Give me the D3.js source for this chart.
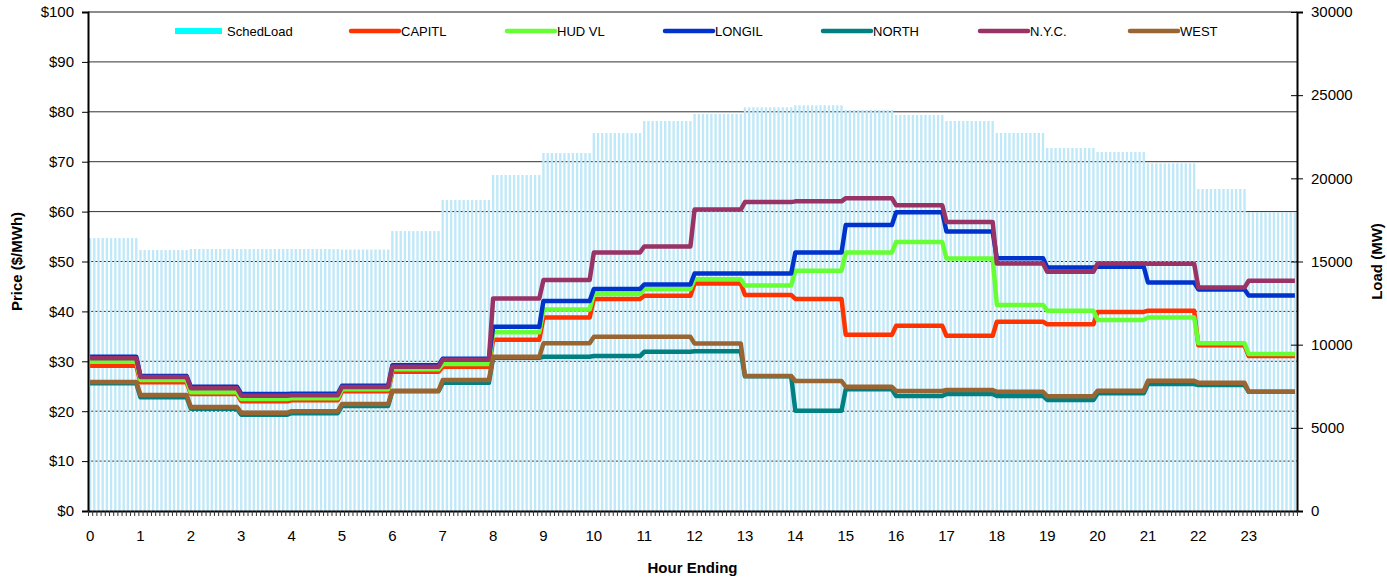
<!DOCTYPE html>
<html>
<head>
<meta charset="utf-8">
<script src="https://cdn.jsdelivr.net/npm/d3@7"></script>
<style>
  body { margin: 0; background: #fff; }
  text { font-family: "Liberation Sans", Arial, sans-serif; }
</style>
</head>
<body>
<div id="chart"></div>
<script>
// hourly data, each hour is shown as 12 five-minute intervals
const hourLabels = ["0","1","2","3","4","5","6","7","8","9","10","11",
                    "12","13","14","15","16","17","18","19","20","21","22","23"];

const schedLoad = [16410, 15690, 15750, 15750, 15750, 15720, 16830, 18700, 20200, 21520, 22720, 23450,
                   23870, 24270, 24390, 24110, 23810, 23450, 22730, 21820, 21580, 20900, 19360, 17960];

const capitl = [29.1, 25.8, 23.45, 22.0, 22.2, 24.0, 27.9, 28.9, 34.3, 38.8, 42.5, 43.15,
                45.6, 43.3, 42.5, 35.3, 37.1, 35.1, 37.95, 37.4, 39.9, 40.15, 33.2, 31.05];
const hudvl  = [29.9, 26.25, 23.8, 22.45, 22.6, 24.4, 28.4, 29.45, 35.8, 40.4, 43.5, 44.5,
                46.45, 45.2, 48.15, 51.8, 53.9, 50.6, 41.3, 40.15, 38.3, 38.8, 33.6, 31.45];
const longil = [30.9, 27.05, 24.9, 23.45, 23.5, 25.1, 29.2, 30.5, 36.9, 42.1, 44.5, 45.4,
                47.6, 47.6, 51.8, 57.3, 59.85, 56.0, 50.65, 48.8, 48.95, 45.8, 44.4, 43.2];
const north  = [25.6, 22.8, 20.5, 19.3, 19.6, 21.05, 24.0, 25.7, 30.7, 30.9, 31.05, 31.9,
                32.0, 27.0, 20.1, 24.4, 23.05, 23.45, 23.05, 22.25, 23.6, 25.45, 25.25, 23.9];
const nyc    = [30.6, 26.85, 24.6, 23.1, 23.2, 24.85, 28.9, 30.3, 42.6, 46.3, 51.8, 53.0,
                60.4, 61.9, 62.05, 62.7, 61.25, 57.9, 49.6, 47.95, 49.6, 49.55, 44.8, 46.15];
const west   = [25.85, 23.25, 20.85, 19.7, 20.0, 21.45, 24.1, 26.25, 30.9, 33.6, 34.9, 34.9,
                33.55, 27.05, 26.05, 24.9, 24.05, 24.25, 23.9, 23.0, 24.1, 26.1, 25.7, 23.9];

const seriesNames = ["CAPITL", "HUD VL", "LONGIL", "NORTH", "N.Y.C.", "WEST"];
const seriesValues = [capitl, hudvl, longil, north, nyc, west];
const seriesColors = ["#ff3300", "#66ff33", "#0033cc", "#008080", "#993366", "#996633"];

const stepsPerHour = 12;

(function() {
    const width = 1387, height = 579;
    const left = 88, right = 1297, top = 12, bottom = 511;

    // expand hourly values into 5 minute slots
    const expand = arr => arr.flatMap(v => d3.range(stepsPerHour).map(() => v));
    const loadSlots = expand(schedLoad);
    const nSlots = loadSlots.length;

    const svg = d3.select("#chart").append("svg")
        .attr("width", width)
        .attr("height", height);

    const x = d3.scaleLinear().domain([0, nSlots]).range([left, right]);
    const yPrice = d3.scaleLinear().domain([0, 100]).range([bottom, top]);
    const yLoad = d3.scaleLinear().domain([0, 30000]).range([bottom, top]);

    // gridlines (behind the load bars)
    svg.append("g")
        .selectAll("line")
        .data(d3.range(10, 100, 10))
        .enter()
        .append("line")
        .attr("x1", left).attr("x2", right)
        .attr("y1", d => yPrice(d)).attr("y2", d => yPrice(d))
        .attr("stroke", "#333")
        .attr("stroke-width", 1);

    svg.append("line")
        .attr("x1", left).attr("x2", right)
        .attr("y1", yPrice(100)).attr("y2", yPrice(100))
        .attr("stroke", "#8c8c8c")
        .attr("stroke-width", 2);

    // load bars
    const slotW = x(1) - x(0);
    svg.append("g")
        .selectAll("rect")
        .data(loadSlots)
        .enter()
        .append("rect")
        .attr("x", (d, i) => x(i) + slotW * 0.22)
        .attr("width", slotW * 0.56)
        .attr("y", d => yLoad(d))
        .attr("height", d => yLoad(0) - yLoad(d))
        .attr("fill", "#bfe8f8");

    // price lines
    const line = d3.line()
        .x((d, i) => x(i + 0.5))
        .y(d => yPrice(d));

    svg.append("g")
        .selectAll("path")
        .data(seriesValues.map((v, k) => ({ values: expand(v), color: seriesColors[k] })))
        .enter()
        .append("path")
        .attr("d", d => line(d.values))
        .attr("fill", "none")
        .attr("stroke", d => d.color)
        .attr("stroke-width", 4.5)
        .attr("stroke-linejoin", "round");

    // left axis
    const leftAxis = svg.append("g")
        .attr("transform", "translate(" + left + ",0)")
        .call(d3.axisLeft(yPrice).tickValues(d3.range(0, 101, 10))
            .tickFormat(d => "$" + d).tickSize(6).tickPadding(8));
    leftAxis.select(".domain").attr("stroke", "#000").attr("stroke-width", 2);
    leftAxis.selectAll("text").attr("font-size", 15).attr("fill", "#000")
        .style("font-family", "'Liberation Sans', Arial, sans-serif");

    // right axis, ticks cross the axis line
    const rightAxis = svg.append("g")
        .attr("transform", "translate(" + right + ",0)")
        .call(d3.axisRight(yLoad).tickValues(d3.range(0, 30001, 5000))
            .tickFormat(d3.format("d")).tickSize(6).tickPadding(8));
    rightAxis.select(".domain").attr("stroke", "#000").attr("stroke-width", 2);
    rightAxis.selectAll(".tick line").attr("x1", -6);
    rightAxis.selectAll("text").attr("font-size", 15).attr("fill", "#000")
        .style("font-family", "'Liberation Sans', Arial, sans-serif");

    // bottom axis, one tick per five minutes
    const bottomAxis = svg.append("g")
        .attr("transform", "translate(0," + bottom + ")")
        .call(d3.axisBottom(x).tickValues(d3.range(0, nSlots + 1))
            .tickFormat("").tickSize(5).tickSizeOuter(0));
    bottomAxis.select(".domain").attr("stroke", "#000").attr("stroke-width", 2);
    bottomAxis.selectAll(".tick line").attr("stroke", "#333");

    svg.append("g")
        .selectAll("text")
        .data(hourLabels)
        .enter()
        .append("text")
        .attr("x", (d, i) => x(i * stepsPerHour + 0.5))
        .attr("y", 541)
        .attr("text-anchor", "middle")
        .attr("font-size", 15)
        .text(d => d);

    // axis titles
    svg.append("text")
        .attr("x", (left + right) / 2)
        .attr("y", 573)
        .attr("text-anchor", "middle")
        .attr("font-size", 15)
        .attr("font-weight", "bold")
        .text("Hour Ending");

    svg.append("text")
        .attr("transform", "translate(22," + ((top + bottom) / 2) + ") rotate(-90)")
        .attr("text-anchor", "middle")
        .attr("font-size", 15)
        .attr("font-weight", "bold")
        .text("Price ($/MWh)");

    svg.append("text")
        .attr("transform", "translate(1382," + ((top + bottom) / 2) + ") rotate(-90)")
        .attr("text-anchor", "middle")
        .attr("font-size", 15)
        .attr("font-weight", "bold")
        .text("Load (MW)");

    // legend
    const legendX = [175, 349, 505, 663, 821, 978, 1128];
    const legendY = 31;
    const legend = svg.append("g");
    const items = [{ name: "SchedLoad", color: "#00ffff", bar: true }]
        .concat(seriesNames.map((n, k) => ({ name: n, color: seriesColors[k], bar: false })));

    items.forEach((it, k) => {
        const g = legend.append("g").attr("transform", "translate(" + legendX[k] + "," + legendY + ")");
        if (it.bar) {
            g.append("rect").attr("x", 0).attr("y", -3).attr("width", 47).attr("height", 6)
                .attr("fill", it.color);
        } else {
            g.append("line").attr("x1", 2).attr("x2", 50).attr("y1", 0).attr("y2", 0)
                .attr("stroke", it.color).attr("stroke-width", 4.5)
                .attr("stroke-linecap", "round");
        }
        g.append("text")
            .attr("x", 52)
            .attr("y", 5)
            .attr("font-size", 13)
            .text(it.name);
    });
})();
</script>
</body>
</html>
